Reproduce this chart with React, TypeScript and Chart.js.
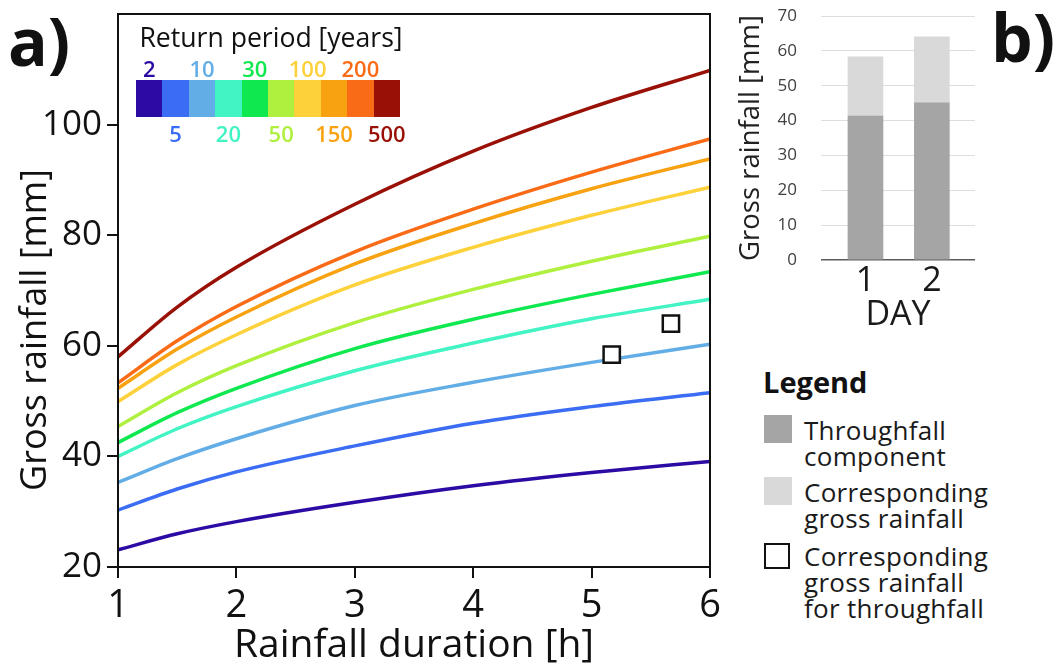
import React, { useEffect, useRef } from "react";
import { Chart, registerables } from "chart.js";
Chart.register(...registerables);

const FONT = "'Open Sans', sans-serif";

// ---- Panel a) data ----
const durations = [1, 1.5, 2, 3, 4, 5, 6];
const returnPeriods = [2, 5, 10, 20, 30, 50, 100, 150, 200, 500];
const rp2 = [23.1, 26.0, 28.2, 31.7, 34.7, 37.1, 39.1];
const rp5 = [30.3, 34.1, 37.2, 41.9, 46.0, 49.0, 51.5];
const rp10 = [35.3, 39.6, 43.2, 49.2, 53.4, 57.0, 60.3];
const rp20 = [40.0, 45.0, 49.0, 55.5, 60.5, 64.9, 68.4];
const rp30 = [42.5, 47.9, 52.3, 59.5, 64.8, 69.3, 73.4];
const rp50 = [45.4, 51.5, 56.4, 64.2, 70.2, 75.3, 79.8];
const rp100 = [49.9, 56.6, 62.0, 71.0, 77.8, 83.6, 88.7];
const rp150 = [52.3, 59.4, 65.2, 74.8, 82.1, 88.4, 93.8];
const rp200 = [53.3, 60.9, 67.1, 77.0, 84.7, 91.4, 97.4];
const rp500 = [58.0, 67.0, 74.2, 85.6, 95.2, 103.1, 109.8];
const seriesA = [rp2, rp5, rp10, rp20, rp30, rp50, rp100, rp150, rp200, rp500];
const rpColors = [
  "#2c0aa4", "#3b6cf4", "#63ade6", "#42f3c3", "#0fe94f",
  "#aff03f", "#fdd13a", "#f9a211", "#f96b17", "#991106",
];
const yTicksA = [20, 40, 60, 80, 100];
const observedDuration = [5.17, 5.67];
const observedGross = [58.4, 64.0];

// ---- Panel b) data ----
const days = [1, 2];
const throughfall = [41.3, 45.1];
const grossTotal = [58.3, 64.0];

const framePlugin = {
  id: "frame",
  afterDraw(chart: any) {
    const { ctx, chartArea } = chart;
    ctx.save();
    ctx.strokeStyle = "#111";
    ctx.lineWidth = 2;
    ctx.strokeRect(chartArea.left, chartArea.top, chartArea.right - chartArea.left, chartArea.bottom - chartArea.top);
    ctx.restore();
  },
};

function PanelA() {
  const ref = useRef<HTMLCanvasElement>(null);
  useEffect(() => {
    const lineSets = seriesA.map((vals, i) => ({
      type: "line" as const,
      label: `${returnPeriods[i]}`,
      data: durations.map((t, j) => ({ x: t, y: vals[j] })),
      borderColor: rpColors[i],
      backgroundColor: rpColors[i],
      borderWidth: 3.5,
      pointRadius: 0,
      cubicInterpolationMode: "monotone" as const,
      fill: false,
      order: 2,
    }));
    const obs = {
      type: "line" as const,
      label: "observed",
      data: observedDuration.map((t, i) => ({ x: t, y: observedGross[i] })),
      showLine: false,
      pointStyle: "rect" as const,
      pointRadius: 11.5,
      pointHoverRadius: 11.5,
      borderColor: "#111",
      borderWidth: 2.5,
      backgroundColor: "#fff",
      order: 1,
    };
    const chart = new Chart(ref.current!, {
      type: "line",
      data: { datasets: [...lineSets, obs] as any },
      options: {
        animation: false,
        responsive: false,
        events: [],
        layout: { padding: { left: 0, right: 20, top: 14, bottom: 0 } },
        plugins: { legend: { display: false }, tooltip: { enabled: false } },
        scales: {
          x: {
            type: "linear",
            min: 1,
            max: 6,
            afterFit: (s: any) => { s.height = 100; s.paddingLeft = 0; s.paddingRight = 0; },
            ticks: { stepSize: 1, font: { family: FONT, size: 38 }, color: "#111", padding: 5 },
            grid: { drawOnChartArea: false, drawTicks: true, tickLength: 11, color: "#111", lineWidth: 2 },
            border: { display: false },
            title: {
              display: true, text: "Rainfall duration [h]", color: "#111",
              font: { family: FONT, size: 39, lineHeight: 1.1 }, padding: { top: 0, bottom: 0 },
            },
          },
          y: {
            type: "linear",
            min: 20,
            max: 120,
            afterFit: (s: any) => { s.width = 118; s.paddingTop = 0; s.paddingBottom = 0; },
            afterBuildTicks: (s: any) => { s.ticks = yTicksA.map((v) => ({ value: v })); },
            ticks: { font: { family: FONT, size: 35 }, color: "#111", padding: 5 },
            grid: { drawOnChartArea: false, drawTicks: true, tickLength: 11, color: "#111", lineWidth: 2 },
            border: { display: false },
            title: { display: false, text: "Gross rainfall [mm]" },
          },
        },
      },
      plugins: [framePlugin],
    });
    return () => chart.destroy();
  }, []);
  return <canvas ref={ref} width={730} height={667} style={{ position: "absolute", left: 0, top: 0, width: 730, height: 667 }} />;
}

function PanelB() {
  const ref = useRef<HTMLCanvasElement>(null);
  useEffect(() => {
    const chart = new Chart(ref.current!, {
      type: "bar",
      data: {
        datasets: [
          {
            label: "Throughfall component",
            data: days.map((d, i) => ({ x: d, y: throughfall[i] })),
            backgroundColor: "#a5a5a5",
            barThickness: 35,
            grouped: false,
          } as any,
          {
            label: "Corresponding gross rainfall",
            data: days.map((d, i) => ({ x: d, y: [throughfall[i], grossTotal[i]] })),
            backgroundColor: "#d9d9d9",
            barThickness: 35,
            grouped: false,
          } as any,
        ],
      },
      options: {
        animation: false,
        responsive: false,
        events: [],
        layout: { padding: { left: 0, right: 5, top: 16, bottom: 0 } },
        plugins: { legend: { display: false }, tooltip: { enabled: false } },
        scales: {
          x: {
            type: "linear",
            min: 0.33,
            max: 2.65,
            offset: false,
            afterFit: (s: any) => { s.height = 80; s.paddingLeft = 0; s.paddingRight = 0; },
            afterBuildTicks: (s: any) => { s.ticks = days.map((v) => ({ value: v })); },
            ticks: { font: { family: FONT, size: 34 }, color: "#1a1a1a", padding: 1 },
            grid: { display: false, drawTicks: false },
            border: { display: false },
            title: {
              display: true, text: "DAY", color: "#1a1a1a",
              font: { family: FONT, size: 34, lineHeight: 1.2 }, padding: { top: 0, bottom: 4 },
            },
          },
          y: {
            type: "linear",
            min: 0,
            max: 70,
            afterFit: (s: any) => { s.width = 91; s.paddingTop = 0; s.paddingBottom = 0; },
            ticks: { stepSize: 10, font: { family: FONT, size: 17 }, color: "#404040", padding: 24 },
            grid: {
              drawTicks: false,
              color: (c: any) => (c.tick && c.tick.value === 0 ? "#5a5a5a" : "#dedede"),
              lineWidth: (c: any) => (c.tick && c.tick.value === 0 ? 1.6 : 1),
            },
            border: { display: false },
            title: {
              display: true, text: "Gross rainfall [mm]", color: "#222",
              font: { family: FONT, size: 27.5, lineHeight: 1.2 }, padding: { top: 5, bottom: 0 },
            },
          },
        },
      },
    });
    return () => chart.destroy();
  }, []);
  return <canvas ref={ref} width={250} height={340} style={{ position: "absolute", left: 730, top: 0, width: 250, height: 340 }} />;
}

function ColorBar() {
  const left = 136, top = 80, cellW = 26.4, h = 37;
  return (
    <>
      <div style={{ position: "absolute", left: 136, top: 20, width: 270, textAlign: "center", fontFamily: FONT, fontSize: 26.6, lineHeight: "34px", color: "#111" }}>
        Return period [years]
      </div>
      {returnPeriods.map((rp, i) => (
        <div key={"c" + rp} style={{ position: "absolute", left: left + i * cellW, top, width: cellW + 0.5, height: h, background: rpColors[i] }} />
      ))}
      {returnPeriods.map((rp, i) => (
        <div key={"l" + rp} style={{
          position: "absolute", left: left + i * cellW + cellW / 2 - 30, width: 60, textAlign: "center",
          top: i % 2 === 0 ? 54 : 119, fontFamily: FONT, fontSize: 22, fontWeight: 600, lineHeight: "28px", color: rpColors[i],
        }}>{rp}</div>
      ))}
    </>
  );
}

function LegendB() {
  const textStyle: React.CSSProperties = { position: "absolute", left: 804, fontFamily: FONT, fontSize: 26, lineHeight: "26px", color: "#1a1a1a", letterSpacing: "0.3px" };
  return (
    <>
      <div style={{ position: "absolute", left: 763, top: 364, fontFamily: FONT, fontSize: 29, fontWeight: 700, lineHeight: "36px", color: "#111" }}>Legend</div>
      <div style={{ position: "absolute", left: 764, top: 415, width: 28, height: 28, background: "#a5a5a5" }} />
      <div style={{ ...textStyle, top: 417 }}>Throughfall<br />component</div>
      <div style={{ position: "absolute", left: 764, top: 477, width: 28, height: 28, background: "#d9d9d9" }} />
      <div style={{ ...textStyle, top: 479 }}>Corresponding<br />gross rainfall</div>
      <div style={{ position: "absolute", left: 764, top: 543, width: 22, height: 22, border: "2.5px solid #111", background: "#fff" }} />
      <div style={{ ...textStyle, top: 543 }}>Corresponding<br />gross rainfall<br />for throughfall</div>
    </>
  );
}

export default function App() {
  return (
    <div style={{ position: "absolute", left: 0, top: 0, width: 1060, height: 667, background: "#fff", overflow: "hidden" }}>
      <PanelA />
      <PanelB />
      <ColorBar />
      <LegendB />
      <div style={{ position: "absolute", left: 33, top: 330, width: 0, height: 0 }}>
        <div style={{
          position: "absolute", left: 0, top: 0, transform: "translate(-50%, -50%) rotate(-90deg)",
          whiteSpace: "nowrap", fontFamily: FONT, fontSize: 36, lineHeight: "44px", color: "#111",
        }}>Gross rainfall [mm]</div>
      </div>
      <div style={{ position: "absolute", left: 8, top: 2, fontFamily: FONT, fontSize: 66, fontWeight: 700, lineHeight: "76px", color: "#111" }}>a)</div>
      <div style={{ position: "absolute", left: 991, top: -2, fontFamily: FONT, fontSize: 66, fontWeight: 700, lineHeight: "76px", color: "#111" }}>b)</div>
    </div>
  );
}
